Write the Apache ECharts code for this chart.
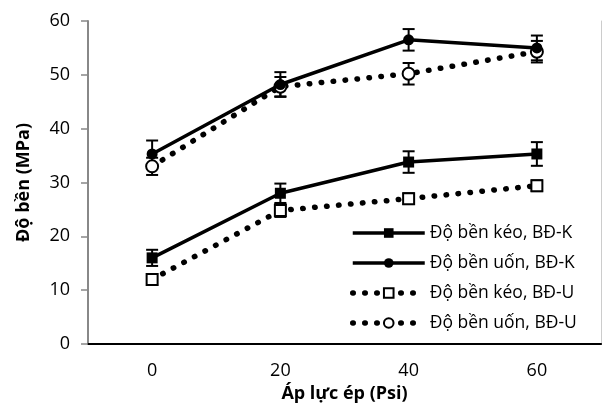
<!DOCTYPE html>
<html>
<head>
<meta charset="utf-8">
<script src="https://cdn.jsdelivr.net/npm/echarts@6/dist/echarts.min.js"></script>
<style>
  html, body { margin: 0; padding: 0; background: #fff; }
  #chart { width: 603px; height: 410px; }
</style>
</head>
<body>
<div id="chart"></div>
<script>
var categories = ['0', '20', '40', '60'];
var yTicks = [0, 10, 20, 30, 40, 50, 60];

var keoK = [16.0, 28.0, 33.8, 35.3];
var keoKErr = [1.5, 1.8, 2.0, 2.2];
var uonK = [35.3, 48.2, 56.5, 55.0];
var uonKErr = [2.5, 2.3, 2.0, 2.3];
var keoU = [12.0, 24.8, 27.0, 29.4];
var keoUErr = [1.0, 1.2, 1.0, 1.0];
var uonU = [33.0, 47.8, 50.2, 54.3];
var uonUErr = [1.6, 1.8, 2.0, 2.0];

var names = ['Độ bền kéo, BĐ-K', 'Độ bền uốn, BĐ-K', 'Độ bền kéo, BĐ-U', 'Độ bền uốn, BĐ-U'];

var FONT = 'Open Sans';

// build [index, low, high] rows for the error bars
function errRows(vals, errs) {
    return vals.map(function (v, i) {
        return [i, v - errs[i], v + errs[i]];
    });
}

function renderErr(params, api) {
    var lo = api.coord([api.value(0), api.value(1)]);
    var hi = api.coord([api.value(0), api.value(2)]);
    var half = 6;
    var st = { stroke: '#000', lineWidth: 2 };
    return {
        type: 'group',
        children: [
            { type: 'line', shape: { x1: lo[0], y1: lo[1], x2: hi[0], y2: hi[1] }, style: st },
            { type: 'line', shape: { x1: lo[0] - half, y1: lo[1], x2: lo[0] + half, y2: lo[1] }, style: st },
            { type: 'line', shape: { x1: hi[0] - half, y1: hi[1], x2: hi[0] + half, y2: hi[1] }, style: st }
        ]
    };
}

function errSeries(vals, errs) {
    return {
        type: 'custom',
        renderItem: renderErr,
        data: errRows(vals, errs),
        z: 3,
        silent: true
    };
}

var solid = { color: '#000', width: 3.5 };
var dotted = { color: '#000', width: 5.5, type: [0.5, 11.5], cap: 'round' };

var option = {
    animation: false,
    grid: { left: 88, right: 2, top: 21, bottom: 66, outerBoundsMode: 'none' },
    legend: {
        data: [
            { name: names[0], lineStyle: solid },
            { name: names[1], lineStyle: solid },
            { name: names[2], lineStyle: dotted },
            { name: names[3], lineStyle: dotted }
        ],
        orient: 'vertical',
        left: 345,
        top: 219,
        itemWidth: 72,
        itemHeight: 12,
        itemGap: 12,
        textStyle: { fontFamily: FONT, fontSize: 17.5, color: '#000', lineHeight: 18 }
    },
    xAxis: [{
        type: 'category',
        data: categories,
        boundaryGap: true,
        axisLine: { lineStyle: { color: '#888', width: 2 } },
        axisTick: { show: false },
        axisLabel: { fontFamily: FONT, fontSize: 18, color: '#000', margin: 18 },
        name: 'Áp lực ép (Psi)',
        nameLocation: 'middle',
        nameGap: 41,
        nameTextStyle: { fontFamily: FONT, fontSize: 18, fontWeight: 'bold', color: '#000' }
    }, {
        type: 'category',
        position: 'top',
        data: categories,
        axisLine: { lineStyle: { color: '#000', width: 2 } },
        axisTick: { show: false },
        axisLabel: { show: false }
    }],
    yAxis: [{
        type: 'value',
        min: yTicks[0],
        max: yTicks[yTicks.length - 1],
        interval: 10,
        axisLine: { show: true, lineStyle: { color: '#888', width: 2 } },
        axisTick: { show: true, length: 7, lineStyle: { color: '#888', width: 1.5 } },
        splitLine: { show: false },
        axisLabel: { fontFamily: FONT, fontSize: 18, color: '#000', margin: 18 },
        name: 'Độ bền (MPa)',
        nameLocation: 'middle',
        nameGap: 55,
        nameTextStyle: { fontFamily: FONT, fontSize: 18, fontWeight: 'bold', color: '#000' }
    }, {
        type: 'value',
        position: 'right',
        min: 0,
        max: 60,
        interval: 10,
        axisLine: { show: true, lineStyle: { color: '#ccc', width: 1 } },
        axisTick: { show: false },
        axisLabel: { show: false },
        splitLine: { show: false }
    }],
    series: [
        {
            name: names[0], type: 'line', data: keoK,
            symbol: 'rect', symbolSize: 11, itemStyle: { color: '#000' },
            lineStyle: solid, z: 5
        },
        {
            name: names[1], type: 'line', data: uonK,
            symbol: 'circle', symbolSize: 11, itemStyle: { color: '#000' },
            lineStyle: solid, z: 5
        },
        {
            name: names[2], type: 'line', data: keoU,
            symbol: 'emptyRect', symbolSize: 11,
            itemStyle: { color: '#000', borderColor: '#000', borderWidth: 3 },
            lineStyle: dotted, z: 4
        },
        {
            name: names[3], type: 'line', data: uonU,
            symbol: 'emptyCircle', symbolSize: 12,
            itemStyle: { color: '#000', borderColor: '#000', borderWidth: 3 },
            lineStyle: dotted, z: 4
        },
        errSeries(keoK, keoKErr),
        errSeries(uonK, uonKErr),
        errSeries(keoU, keoUErr),
        errSeries(uonU, uonUErr)
    ]
};

var chart = echarts.init(document.getElementById('chart'));
chart.setOption(option);
</script>
</body>
</html>
